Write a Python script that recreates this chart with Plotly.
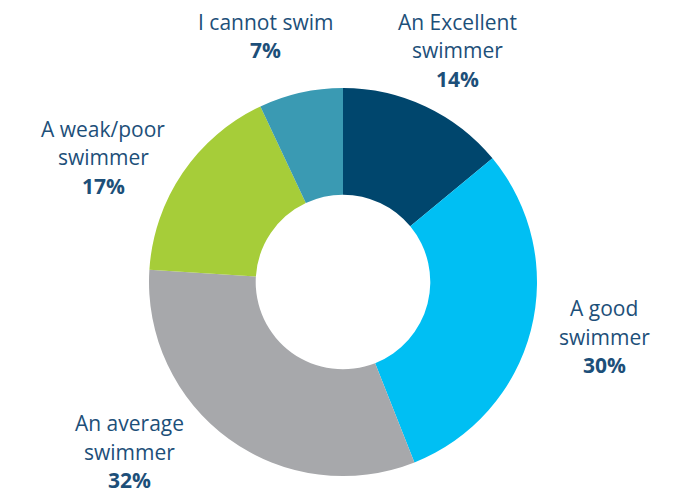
import plotly.graph_objects as go

categories = ["An Excellent swimmer", "A good swimmer", "An average swimmer",
              "A weak/poor swimmer", "I cannot swim"]
label_lines = [["An Excellent", "swimmer"], ["A good", "swimmer"], ["An average", "swimmer"],
               ["A weak/poor", "swimmer"], ["I cannot swim"]]
values = [14, 30, 32, 17, 7]

colors = ["#00466d", "#00bff3", "#a7a8ab", "#a6cd39", "#3a9ab3"]
TEXT_COLOR = "#1d4f79"
W, H = 681, 495
CX, CY, R = 343, 282, 194
LINE_GAP = 28.5
# label first-line centres in pixels (x, y from top)
label_pos = [(457, 22), (604, 308), (129, 423), (103, 129), (265, 22)]

fig = go.Figure(go.Pie(
    labels=categories,
    values=values,
    hole=0.45,
    sort=False,
    direction="clockwise",
    rotation=0,
    marker=dict(colors=colors, line=dict(width=0)),
    textinfo="none",
    hoverinfo="label+percent",
    showlegend=False,
    domain=dict(x=[(CX - R) / W, (CX + R) / W],
                y=[(H - CY - R) / H, (H - CY + R) / H]),
))

total = sum(values)
for lines, v, (px, py) in zip(label_lines, values, label_pos):
    all_lines = list(lines) + [f"<b>{round(100 * v / total)}%</b>"]
    for i, line in enumerate(all_lines):
        fig.add_annotation(x=px / W, y=1 - (py + i * LINE_GAP) / H, xref="paper", yref="paper",
                           text=line, showarrow=False, xanchor="center", yanchor="middle",
                           align="center", borderpad=0,
                           font=dict(size=21, color=TEXT_COLOR, family="Open Sans"))

fig.update_layout(width=W, height=H, margin=dict(l=0, r=0, t=0, b=0),
                  paper_bgcolor="white", plot_bgcolor="white")
fig.write_html("out.html", config={"displayModeBar": False},
               post_script="document.body.style.margin='0';document.body.style.overflow='hidden';")
